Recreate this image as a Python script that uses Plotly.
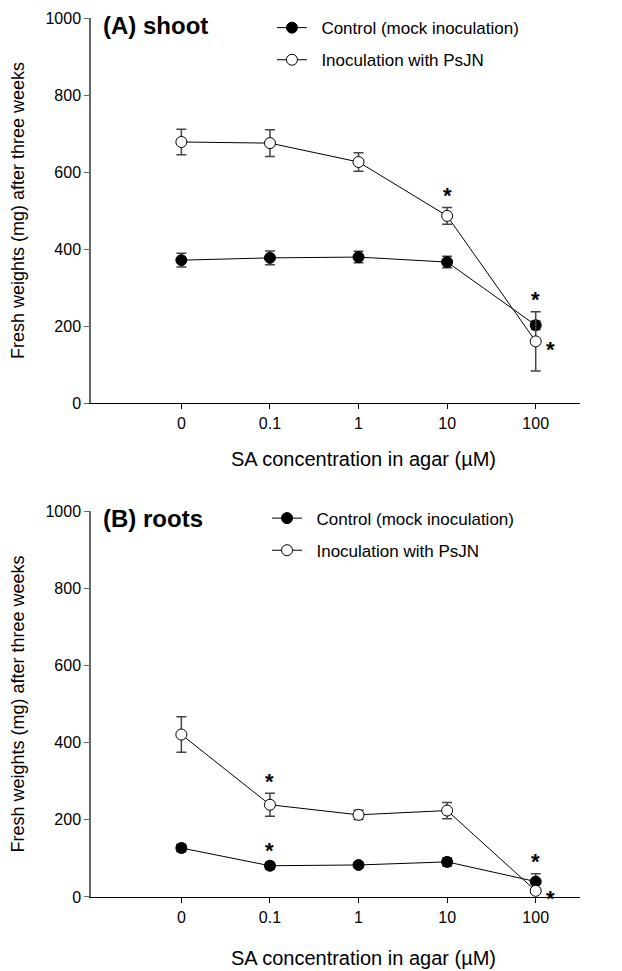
import plotly.graph_objects as go

categories = ["0", "0.1", "1", "10", "100"]

shoot_ctrl = [371, 377, 379, 366, 202]
shoot_ctrl_err = [18, 18, 15, 15, 11]
shoot_inoc = [678, 675, 626, 486, 160]
shoot_inoc_err = [33, 35, 24, 22, 77]

roots_ctrl = [127, 81, 83, 91, 40]
roots_ctrl_err = [10, 9, 7, 11, 20]
roots_inoc = [421, 239, 213, 224, 16]
roots_inoc_err = [46, 30, 12, 21, 6]

# significance stars: (category, series, placement)
shoot_stars = [("10", "inoc", "above"), ("100", "inoc", "above"), ("100", "inoc", "right")]
roots_stars = [("0.1", "inoc", "above"), ("0.1", "ctrl", "above"),
               ("100", "ctrl", "above"), ("100", "inoc", "right")]

y_ticks = [0, 200, 400, 600, 800, 1000]
series_names = ["Control (mock inoculation)", "Inoculation with PsJN"]
panel_titles = ["(A) shoot", "(B) roots"]
x_title = "SA concentration in agar (µM)"
y_title = "Fresh weights (mg) after three weeks"

FONT = "Arial, Liberation Sans, sans-serif"

fig = go.Figure()

panels = [
    (shoot_ctrl, shoot_ctrl_err, shoot_inoc, shoot_inoc_err, shoot_stars, "x", "y", "legend"),
    (roots_ctrl, roots_ctrl_err, roots_inoc, roots_inoc_err, roots_stars, "x2", "y2", "legend2"),
]

NB = "\u00a0\u00a0"

for ctrl, cerr, inoc, ierr, stars, xa, ya, lg in panels:
    for vals, errs, fill, name, grp in [(ctrl, cerr, "black", series_names[0], "c"),
                                         (inoc, ierr, "white", series_names[1], "i")]:
        fig.add_trace(go.Scatter(
            x=categories, y=vals, xaxis=xa, yaxis=ya, name=NB + name,
            mode="lines+markers", legend=lg, legendgroup=grp + xa,
            line=dict(color="black", width=1),
            marker=dict(symbol="circle", size=11, color=fill,
                        line=dict(color="black", width=1)),
            error_y=dict(type="data", array=errs, color="#444444",
                         thickness=1.5, width=5),
        ))
    data = {"ctrl": (ctrl, cerr), "inoc": (inoc, ierr)}
    for cat, ser, place in stars:
        vals, errs = data[ser]
        i = categories.index(cat)
        if place == "above":
            fig.add_annotation(x=i, y=vals[i] + errs[i], xref=xa, yref=ya,
                               text="<b>*</b>", showarrow=False, yshift=12,
                               yanchor="middle",
                               font=dict(family=FONT, size=22, color="black"))
        else:
            fig.add_annotation(x=i, y=vals[i], xref=xa, yref=ya,
                               text="<b>*</b>", showarrow=False, xshift=15, yshift=-8,
                               yanchor="middle",
                               font=dict(family=FONT, size=22, color="black"))

top_dom = [0.562, 1.0]
bot_dom = [0.0, 0.439]

xaxis_common = dict(
    type="category", range=[-1.02, 4.5], showline=True, linecolor="black", linewidth=1,
    ticks="outside", ticklen=5, tickcolor="black", showgrid=False, zeroline=False,
    tickfont=dict(family=FONT, size=16, color="black"), ticklabelstandoff=1,
    automargin=False,
)
yaxis_common = dict(
    range=[0, 1000], tickvals=y_ticks, showline=True, linecolor="#666666", linewidth=1.5,
    ticks="outside", ticklen=5, tickcolor="#666666", showgrid=False, zeroline=False,
    tickfont=dict(family=FONT, size=16, color="black"), automargin=False,
    title=dict(text=y_title, font=dict(family=FONT, size=18, color="black"), standoff=17),
)

fig.update_layout(
    width=622, height=971,
    margin=dict(l=83, r=50, t=10, b=82, autoexpand=False),
    paper_bgcolor="white", plot_bgcolor="white",
    xaxis=dict(domain=[0, 1], anchor="y", **xaxis_common),
    yaxis=dict(domain=top_dom, anchor="x", **yaxis_common),
    xaxis2=dict(domain=[0, 1], anchor="y2", **xaxis_common),
    yaxis2=dict(domain=bot_dom, anchor="x2", **yaxis_common),
    legend=dict(x=0.37, y=1.009, xanchor="left", yanchor="top", traceorder="grouped",
                tracegroupgap=7, bgcolor="rgba(0,0,0,0)",
                font=dict(family=FONT, size=17, color="black")),
    legend2=dict(x=0.36, y=0.451, xanchor="left", yanchor="top", traceorder="grouped",
                 tracegroupgap=7, bgcolor="rgba(0,0,0,0)",
                 font=dict(family=FONT, size=17, color="black")),
)

for title, dom in zip(panel_titles, [top_dom, bot_dom]):
    fig.add_annotation(x=0.02, y=dom[1], xref="paper", yref="paper", xanchor="left",
                       yanchor="middle", yshift=-7, showarrow=False,
                       text="<b>" + title + "</b>",
                       font=dict(family=FONT, size=24, color="black"))
    fig.add_annotation(x=(363 - 91) / 489, y=dom[0], xref="paper", yref="paper",
                       xanchor="center", yanchor="middle",
                       yshift=-56 if dom[0] > 0 else -61, showarrow=False,
                       text=x_title, font=dict(family=FONT, size=20, color="black"))

fig.write_html("out.html")
